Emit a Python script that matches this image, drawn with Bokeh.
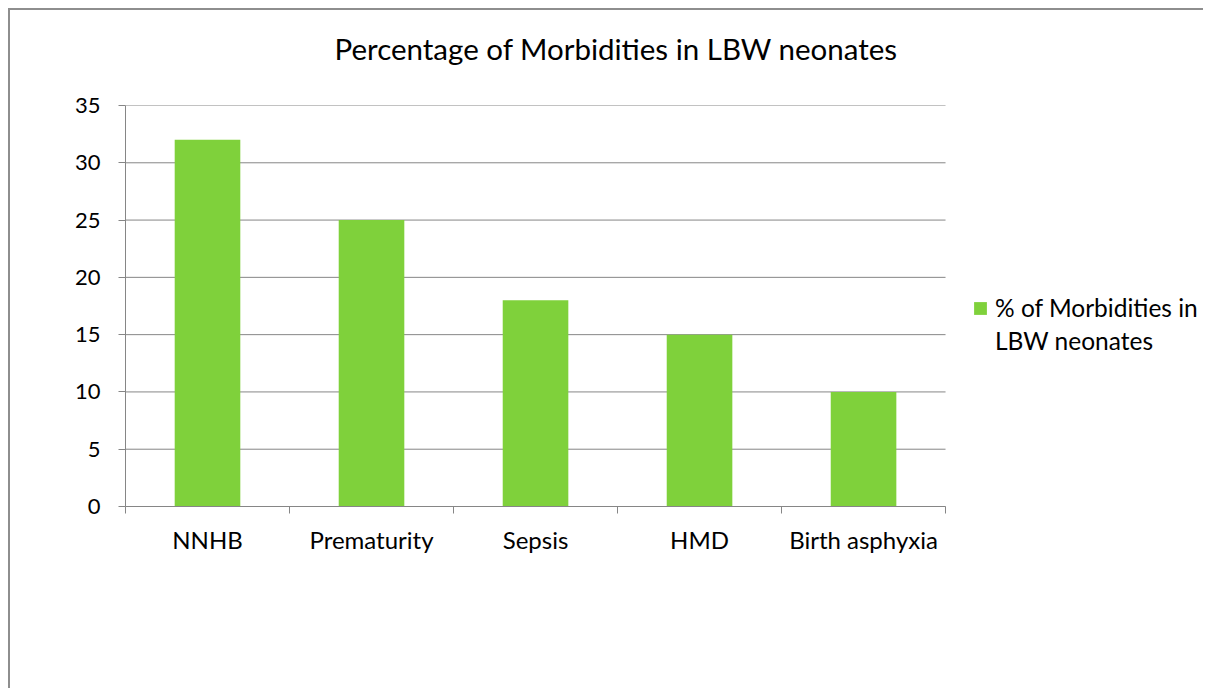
from bokeh.plotting import figure
from bokeh.models import FixedTicker, Legend, LegendItem, Title, Range1d
from bokeh.embed import file_html
from bokeh.resources import INLINE

categories = ["NNHB", "Prematurity", "Sepsis", "HMD", "Birth asphyxia"]
values = [32, 25, 18, 15, 10]
y_ticks = [0, 5, 10, 15, 20, 25, 30, 35]
series_label_lines = ["% of Morbidities in", "LBW neonates"]
title_text = "Percentage of Morbidities in LBW neonates"

FONT = "Lato"
GRID = "#868686"
GREEN = "#7fd13b"

n = len(categories)
xs = [i + 0.5 for i in range(n)]
bounds = list(range(n + 1))

# frame extends to the right edge so the legend can sit inside it;
# category area occupies x in [0, n]
p = figure(width=1195, height=680, output_backend="svg", toolbar_location=None,
           x_range=Range1d(0, n + 1.585), y_range=Range1d(0, 35),
           min_border_left=115, min_border_right=0, min_border_top=95,
           min_border_bottom=184, outline_line_color=None)
p.styles = {"margin-left": "8px", "margin-top": "8px",
            "border-left": "2px solid #8e8e8e", "border-top": "2px solid #8e8e8e"}

p.title = None
p.add_layout(Title(text=" ", text_font_size="10px", standoff=27), "above")
p.add_layout(Title(text=title_text, align="left", offset=209, standoff=0,
                   text_font=FONT, text_font_size="29.5px", text_font_style="normal",
                   text_color="#000000"), "above")

# horizontal grid lines limited to the category area
p.segment(x0=[0] * len(y_ticks), x1=[n] * len(y_ticks), y0=y_ticks, y1=y_ticks,
          line_color=GRID, line_width=1)

r = p.vbar(x=xs, top=values, width=0.4, color=GREEN, line_color=None)
# invisible renderer, only used for the second (wrapped) line of the legend label
r_blank = p.vbar(x=[], top=[], width=0.4, fill_alpha=0, line_alpha=0)

p.xaxis.bounds = (0, n)
p.xaxis.ticker = FixedTicker(ticks=xs, minor_ticks=bounds)
p.xaxis.major_label_overrides = {x: c for x, c in zip(xs, categories)}
p.xaxis.major_tick_out = 0
p.xaxis.major_tick_in = 0
p.xaxis.minor_tick_out = 7
p.xaxis.minor_tick_in = 0
p.xaxis.minor_tick_line_color = GRID
p.xaxis.axis_line_color = GRID
p.xaxis.major_label_standoff = 11
p.xaxis.major_label_text_font = FONT
p.xaxis.major_label_text_font_size = "24px"
p.xaxis.major_label_text_color = "#000000"

p.yaxis.ticker = FixedTicker(ticks=y_ticks)
p.yaxis.major_tick_out = 7
p.yaxis.major_tick_in = 0
p.yaxis.minor_tick_line_color = None
p.yaxis.major_tick_line_color = GRID
p.yaxis.axis_line_color = GRID
p.yaxis.major_label_standoff = 18
p.yaxis.major_label_text_font = FONT
p.yaxis.major_label_text_font_size = "22px"
p.yaxis.major_label_text_color = "#000000"

p.xgrid.grid_line_color = None
p.ygrid.grid_line_color = None

legend = Legend(items=[LegendItem(label=series_label_lines[0], renderers=[r]),
                       LegendItem(label=series_label_lines[1], renderers=[r_blank])],
                location=(847, 151), padding=0, margin=0, spacing=4,
                border_line_color=None,
                background_fill_alpha=0, glyph_width=16, glyph_height=16,
                label_standoff=7, label_text_font=FONT, label_text_font_size="24.5px",
                label_text_color="#000000")
p.add_layout(legend, "center")

open("out.html", "w").write(file_html(p, INLINE))
